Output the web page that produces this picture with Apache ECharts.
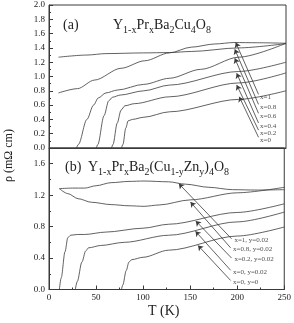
<!DOCTYPE html>
<html>
<head>
<meta charset="utf-8">
<script src="https://cdn.jsdelivr.net/npm/echarts@6/dist/echarts.min.js"></script>
<style>
  html, body { margin: 0; padding: 0; background: #fff; }
  #chart { width: 294px; height: 323px; }
</style>
</head>
<body>
<div id="chart"></div>
<script>
// panel (a): Y1-xPrxBa2Cu4O8, [T (K), rho (mOhm cm)]
const a_x1 = [[10, 1.27], [40, 1.30], [60, 1.32], [100, 1.33], [127, 1.335], [150, 1.35], [200, 1.40], [250, 1.46]];
const a_x08 = [[10, 0.77], [30, 0.83], [48, 0.95], [76, 1.115], [101, 1.22], [127, 1.33], [150, 1.41], [175, 1.455], [195, 1.475], [220, 1.472], [250, 1.465]];
const a_x06 = [[29, 0], [31, 0.05], [40, 0.40], [47, 0.60], [52, 0.70], [60, 0.77], [72, 0.81], [100, 0.89], [127, 0.975], [160, 1.10], [200, 1.27], [250, 1.465]];
const a_x04 = [[50, 0], [51.5, 0.05], [58, 0.45], [63, 0.66], [67, 0.71], [75, 0.74], [100, 0.80], [127, 0.88], [200, 1.07], [250, 1.20]];
const a_x02 = [[66, 0], [67.5, 0.05], [72, 0.35], [76, 0.53], [80, 0.59], [90, 0.62], [127, 0.716], [200, 0.91], [250, 1.05]];
const a_x0 = [[76.5, 0], [78, 0.05], [81, 0.28], [83.5, 0.38], [88, 0.40], [100, 0.43], [127, 0.506], [200, 0.68], [250, 0.80]];

// panel (b): Y1-xPrxBa2(Cu1-yZny)4O8
const b_x1 = [[11, 1.283], [25, 1.29], [38, 1.29], [50, 1.32], [66, 1.359], [85, 1.375], [101, 1.38], [127, 1.37], [145, 1.34], [170, 1.30], [195, 1.27], [220, 1.265], [250, 1.27]];
const b_x08 = [[11, 1.283], [20, 1.22], [31, 1.155], [45, 1.11], [66, 1.08], [85, 1.065], [101, 1.058], [117, 1.075], [150, 1.14], [200, 1.23], [250, 1.30]];
const b_x02 = [[11, 0], [13, 0.15], [17, 0.48], [20, 0.66], [23, 0.69], [30, 0.70], [38, 0.70], [60, 0.73], [100, 0.78], [127, 0.83], [200, 0.98], [250, 1.09]];
const b_x0y02 = [[28, 0], [30, 0.10], [35, 0.35], [39, 0.49], [42, 0.53], [55, 0.56], [80, 0.60], [127, 0.69], [200, 0.86], [250, 0.985]];
const b_x0y0 = [[77, 0], [78.5, 0.06], [82, 0.24], [85, 0.35], [88, 0.38], [100, 0.41], [127, 0.50], [200, 0.68], [250, 0.795]];

// arrow annotations: [tailT, tailRho, tipT, tipRho]
const a_arrows = [[221, 0.75, 197, 1.475], [221, 0.61, 196, 1.38], [221, 0.485, 196, 1.255], [221, 0.35, 198, 1.045], [221, 0.25, 198, 0.88], [221, 0.15, 200.7, 0.716]];
const a_labels = ['x=1', 'x=0.8', 'x=0.6', 'x=0.4', 'x=0.2', 'x=0'];
const a_labelPos = [[222.5, 0.708], [222.5, 0.567], [222.5, 0.444], [222.5, 0.308], [222.5, 0.21], [222.5, 0.108]];

const b_arrows = [[194, 0.645, 138, 1.346], [193, 0.53, 150.4, 1.112], [194, 0.40, 156, 0.871], [193, 0.245, 155.7, 0.74], [193, 0.115, 158.4, 0.56]];
const b_labels = ['x=1, y=0.02', 'x=0.8, y=0.02', 'x=0.2, y=0.02', 'x=0, y=0.02', 'x=0, y=0'];
const b_labelPos = [[197, 0.626], [195.5, 0.508], [197, 0.381], [195.5, 0.224], [195.5, 0.097]];

const xTicks = { min: 0, max: 250, interval: 50 };

const FONT = 'Liberation Serif';
const LINE = '#3a3a3a';
const TXT = '#222';

const chart = echarts.init(document.getElementById('chart'));

const curve = (data, idx) => ({
  type: 'line', data, xAxisIndex: idx, yAxisIndex: idx,
  showSymbol: false, smooth: 0.3, smoothMonotone: 'x',
  lineStyle: { color: LINE, width: 0.8 }, silent: true
});

const arrows = (list, idx) => ({
  type: 'lines', coordinateSystem: 'cartesian2d', xAxisIndex: idx, yAxisIndex: idx,
  symbol: ['none', 'arrow'], symbolSize: 5,
  lineStyle: { color: LINE, width: 0.8, opacity: 1 },
  data: list.map(a => ({ coords: [[a[0], a[1]], [a[2], a[3]]] })),
  silent: true
});

const labels = (names, pos, idx) => ({
  type: 'scatter', xAxisIndex: idx, yAxisIndex: idx, symbolSize: 0,
  data: names.map((n, i) => ({ name: n, value: pos[i] })),
  label: { show: true, position: 'right', distance: 0, formatter: '{b}', fontFamily: FONT, fontSize: 7, color: TXT },
  silent: true
});

const yAxisBase = {
  type: 'value',
  axisLine: { show: true, lineStyle: { color: LINE, width: 1 } },
  axisTick: { show: true, inside: true, length: 4, lineStyle: { color: LINE } },
  minorTick: { show: true, splitNumber: 2, length: 2, lineStyle: { color: LINE } },
  splitLine: { show: false },
  axisLabel: { fontFamily: FONT, fontSize: 9, color: TXT, margin: 4, formatter: v => v.toFixed(1) }
};

const rich = {
  n: { fontFamily: FONT, fontSize: 14, fontWeight: 'normal', lineHeight: 19, color: TXT },
  s: { fontFamily: FONT, fontSize: 10, fontWeight: 'normal', lineHeight: 9, verticalAlign: 'bottom', color: TXT }
};
const plain = { fontFamily: FONT, fontSize: 14, fontWeight: 'normal', color: TXT };

chart.setOption({
  animation: false,
  backgroundColor: '#fff',
  title: [
    { text: '(a)', left: 58, top: 13, textStyle: plain },
    { text: '{n|Y}{s|1-x}{n|Pr}{s|x}{n|Ba}{s|2}{n|Cu}{s|4}{n|O}{s|8}', left: 108, top: 11, textStyle: { fontWeight: 'normal', rich } },
    { text: '(b)', left: 60, top: 155, textStyle: plain },
    { text: '{n|Y}{s|1-x}{n|Pr}{s|x}{n|Ba}{s|2}{n|(Cu}{s|1-y}{n|Zn}{s|y}{n|)}{s|4}{n|O}{s|8}', left: 83, top: 153, textStyle: { fontWeight: 'normal', rich } }
  ],
  graphic: [
    { type: 'text', x: 3, y: 182, rotation: Math.PI / 2, style: { text: 'ρ (mΩ cm)', fontFamily: FONT, fontSize: 12, fill: TXT } },
    { type: 'text', x: 148, y: 304, style: { text: 'T (K)', fontFamily: FONT, fontSize: 14, fill: TXT } }
  ],
  grid: [
    { left: 49, right: 8, top: 5, height: 143, show: true, borderColor: LINE, borderWidth: 1 },
    { left: 49, right: 8, top: 148, height: 141.5, show: true, borderColor: LINE, borderWidth: 1 }
  ],
  xAxis: [
    { gridIndex: 0, type: 'value', ...xTicks, axisLine: { show: true, lineStyle: { color: LINE } },
      axisTick: { show: false }, axisLabel: { show: false }, splitLine: { show: false } },
    { gridIndex: 1, type: 'value', ...xTicks,
      axisLine: { show: true, lineStyle: { color: LINE } },
      axisTick: { show: true, inside: true, length: 4, lineStyle: { color: LINE } },
      minorTick: { show: true, splitNumber: 2, length: 2, lineStyle: { color: LINE } },
      splitLine: { show: false },
      axisLabel: { fontFamily: FONT, fontSize: 9, color: TXT, margin: 4 } }
  ],
  yAxis: [
    { ...yAxisBase, gridIndex: 0, min: 0, max: 2.0, interval: 0.2 },
    { ...yAxisBase, gridIndex: 1, min: 0, max: 1.8, interval: 0.4,
      axisLabel: { ...yAxisBase.axisLabel, showMaxLabel: false } }
  ],
  series: [
    curve(a_x1, 0), curve(a_x08, 0), curve(a_x06, 0), curve(a_x04, 0), curve(a_x02, 0), curve(a_x0, 0),
    curve(b_x1, 1), curve(b_x08, 1), curve(b_x02, 1), curve(b_x0y02, 1), curve(b_x0y0, 1),
    arrows(a_arrows, 0), arrows(b_arrows, 1),
    labels(a_labels, a_labelPos, 0), labels(b_labels, b_labelPos, 1)
  ]
});
</script>
</body>
</html>
